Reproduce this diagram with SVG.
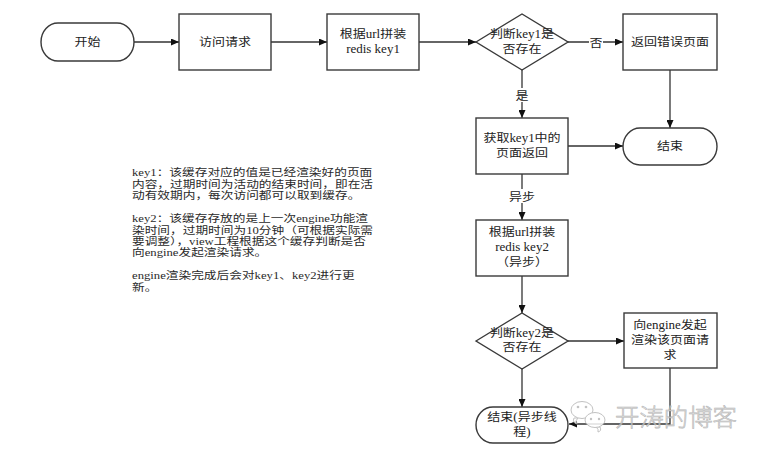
<svg xmlns="http://www.w3.org/2000/svg" width="764" height="454" viewBox="0 0 764 454">
<defs>
<style>
.bx{fill:#fff;stroke:#3a3a3a;stroke-width:1.4}
.ln{fill:none;stroke:#333;stroke-width:1.3}
.t{font-family:"Liberation Serif","Noto Sans CJK SC",serif;font-size:13px;fill:#222}
.n{font-family:"Liberation Serif","Noto Sans CJK SC",serif;font-size:12.7px;fill:#2a2a2a}
.c{text-anchor:middle}
.lb{fill:#fff;stroke:none}
</style>
<marker id="ah" markerUnits="userSpaceOnUse" markerWidth="8" markerHeight="7" refX="8" refY="3.5" orient="auto">
<path d="M0,0 L8,3.5 L0,7 z" fill="#111"/>
</marker>
</defs>
<rect width="764" height="454" fill="#fff"/>

<g id="connectors">
<path class="ln" d="M134,42 H179" marker-end="url(#ah)"/>
<path class="ln" d="M271,42 H327" marker-end="url(#ah)"/>
<path class="ln" d="M419,42 H476" marker-end="url(#ah)"/>
<path class="ln" d="M568,42 H623" marker-end="url(#ah)"/>
<path class="ln" d="M670,70 V128" marker-end="url(#ah)"/>
<path class="ln" d="M522,70 V118" marker-end="url(#ah)"/>
<path class="ln" d="M568,146 H623" marker-end="url(#ah)"/>
<path class="ln" d="M522,174 V220" marker-end="url(#ah)"/>
<path class="ln" d="M522,276 V313" marker-end="url(#ah)"/>
<path class="ln" d="M568,341 H624" marker-end="url(#ah)"/>
<path class="ln" d="M522,369 V407" marker-end="url(#ah)"/>
<path class="ln" d="M670,368 V424 H569" marker-end="url(#ah)"/>
<rect class="lb" x="589" y="35" width="14" height="14"/>
<text class="t c" transform="translate(596,46.5) scale(1,0.88)">否</text>
<rect class="lb" x="515" y="88" width="14" height="14"/>
<text class="t c" transform="translate(522,99.5) scale(1,0.88)">是</text>
<rect class="lb" x="509" y="189" width="26" height="14"/>
<text class="t c" transform="translate(522,200.5) scale(1,0.88)">异步</text>
</g>

<g id="start">
<rect class="bx" x="41" y="23" width="93" height="38" rx="17" ry="19"/>
<text class="t c" transform="translate(87.5,46.3) scale(1,0.88)">开始</text>
</g>

<g id="visit">
<rect class="bx" x="179" y="14" width="92" height="56"/>
<text class="t c" transform="translate(225,46.3) scale(1,0.88)">访问请求</text>
</g>

<g id="key1build">
<rect class="bx" x="327" y="14" width="92" height="56"/>
<text class="t c" transform="translate(373,37.6) scale(1,0.88)"><tspan x="0">根据url拼装</tspan><tspan x="0" dy="18">redis key1</tspan></text>
</g>

<g id="check1">
<polygon class="bx" points="476,42 522,14 568,42 522,70"/>
<text class="t c" transform="translate(522,37.8) scale(1,0.88)"><tspan x="0">判断key1是</tspan><tspan x="0" dy="17.6">否存在</tspan></text>
</g>

<g id="errpage">
<rect class="bx" x="623" y="14" width="94" height="56"/>
<text class="t c" transform="translate(670,46.3) scale(1,0.88)">返回错误页面</text>
</g>

<g id="getkey1">
<rect class="bx" x="476" y="118" width="92" height="56"/>
<text class="t c" transform="translate(522,141.8) scale(1,0.88)"><tspan x="0">获取key1中的</tspan><tspan x="0" dy="17.7">页面返回</tspan></text>
</g>

<g id="end1">
<rect class="bx" x="623" y="128" width="94" height="37" rx="17" ry="18.5"/>
<text class="t c" transform="translate(670,150.3) scale(1,0.88)">结束</text>
</g>

<g id="key2build">
<rect class="bx" x="476" y="220" width="92" height="56"/>
<text class="t c" transform="translate(522,236.4) scale(1,0.88)"><tspan x="0">根据url拼装</tspan><tspan x="0" dy="17">redis key2</tspan><tspan x="0" dy="17">（异步）</tspan></text>
</g>

<g id="check2">
<polygon class="bx" points="476,341 522,313 568,341 522,369"/>
<text class="t c" transform="translate(522,336.8) scale(1,0.88)"><tspan x="0">判断key2是</tspan><tspan x="0" dy="16">否存在</tspan></text>
</g>

<g id="render">
<rect class="bx" x="624" y="313" width="93" height="55"/>
<text class="t c" transform="translate(670,329.1) scale(1,0.88)"><tspan x="0">向engine发起</tspan><tspan x="0" dy="17">渲染该页面请</tspan><tspan x="0" dy="17">求</tspan></text>
</g>

<g id="end2">
<rect class="bx" x="476" y="407" width="92" height="36" rx="17" ry="18"/>
<text class="t c" transform="translate(522,420.8) scale(1,0.88)"><tspan x="0">结束(异步线</tspan><tspan x="0" dy="17">程)</tspan></text>
</g>

<g id="note">
<text class="n" transform="translate(132,176.3) scale(1,0.78)">
<tspan x="0" y="0">key1：该缓存对应的值是已经渲染好的页面</tspan>
<tspan x="0" y="14.68">内容，过期时间为活动的结束时间，即在活</tspan>
<tspan x="0" y="29.36">动有效期内，每次访问都可以取到缓存。</tspan>
<tspan x="0" y="58.72">key2：该缓存存放的是上一次engine功能渲</tspan>
<tspan x="0" y="73.4">染时间，过期时间为10分钟（可根据实际需</tspan>
<tspan x="0" y="88.08">要调整），view工程根据这个缓存判断是否</tspan>
<tspan x="0" y="102.76">向engine发起渲染请求。</tspan>
<tspan x="0" y="132.12">engine渲染完成后会对key1、key2进行更</tspan>
<tspan x="0" y="146.8">新。</tspan>
</text>
</g>

<g id="watermark" opacity="0.85">
<g fill="#fff" stroke="#b8b8b8" stroke-width="1">
<path d="M574,418 Q572,423 577,424 Q575,420 578,418 Z"/>
<ellipse cx="582" cy="410" rx="11" ry="8.5"/>
<path d="M600,427 Q602,431 598,432 Q599,429 596,427 Z"/>
<ellipse cx="595" cy="420" rx="10" ry="7.5"/>
</g>
<g fill="#b8b8b8">
<circle cx="578" cy="407" r="1.3"/><circle cx="586" cy="407" r="1.3"/>
<circle cx="591" cy="419" r="1.2"/><circle cx="599" cy="419" r="1.2"/>
</g>
<text x="615" y="426" font-family="Noto Sans CJK SC, sans-serif" font-size="24.4" font-weight="300" fill="#e6e6e6" stroke="#a9a9a9" stroke-width="0.6">开涛的博客</text>
</g>
</svg>
